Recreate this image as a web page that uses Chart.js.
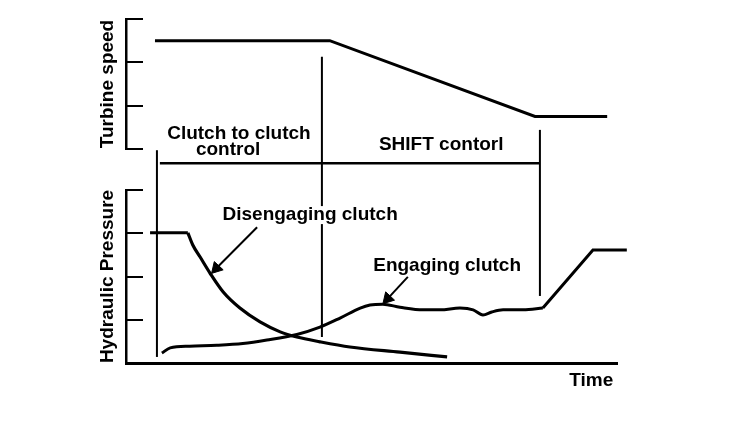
<!DOCTYPE html>
<html>
<head>
<meta charset="utf-8">
<title>Clutch to clutch shift</title>
<script src="https://cdn.jsdelivr.net/npm/chart.js@4.4.1/dist/chart.umd.min.js"></script>
<style>
  html, body { margin: 0; padding: 0; background: #fff; }
  #wrap { width: 736px; height: 428px; }
</style>
</head>
<body>
<div id="wrap"><canvas id="grafica"></canvas></div>
<script>
// time runs 0..100, turbine speed 0..3, hydraulic pressure 0..4
const turbineT = [5.9, 41.5, 83.3, 98.0];
const turbineSpeed = [2.5, 2.5, 0.75, 0.75];

const disengageFlatT = [4.9, 12.6];
const disengageFlatP = [3.01, 3.01];
const disengageT = [12.6, 13.6, 15.1, 17.1, 19.8, 23.2, 27.3, 31.4, 34.8, 39.5, 45.6, 55.8, 65.4];
const disengageP = [3.01, 2.73, 2.45, 2.08, 1.64, 1.27, 0.95, 0.72, 0.60, 0.49, 0.37, 0.25, 0.14];

const engageT = [7.3, 9.0, 13.0, 18.5, 23.8, 28.7, 34.8, 39.5, 43.6, 47.7, 49.7, 52.3, 55.8, 60.5, 64.0, 68.0, 70.7, 72.7, 74.5, 76.8, 80.9, 84.9];
const engageP = [0.23, 0.35, 0.39, 0.41, 0.45, 0.53, 0.66, 0.83, 1.04, 1.27, 1.34, 1.36, 1.29, 1.23, 1.23, 1.27, 1.23, 1.11, 1.18, 1.23, 1.23, 1.27];
const engageRampT = [84.9, 95.1, 102.0];
const engageRampP = [1.27, 2.61, 2.61];

// phase markers, in pressure units (they run up into the speed panel)
const markerT = [6.3, 39.9, 84.3];
const markerTop = [4.92, 7.08, 5.39];
const markerBottom = [0.14, 0.60, 1.55];
const spanT = [6.9, 84.3];
const spanP = [4.62, 4.62];

// arrows from the labels to the curves
const arrowFromT = [26.7, 57.4];
const arrowFromP = [3.14, 1.99];
const arrowToT = [18.4, 53.3];
const arrowToP = [2.19, 1.49];

const labelText = ["Clutch to clutch", "control", "SHIFT contorl", "Disengaging clutch", "Engaging clutch"];
const labelT = [23.0, 20.8, 64.2, 37.5, 65.4];
const labelP = [5.29, 4.92, 5.04, 3.42, 2.24];

const FUENTE = '"Liberation Sans", Arial, sans-serif';
const negro = '#000';

function puntos(xs, ys) {
  return xs.map((x, i) => ({ x: x, y: ys[i] }));
}

function linea(data, eje, ancho, extra) {
  return Object.assign({
    data: data,
    yAxisID: eje,
    borderColor: negro,
    borderWidth: ancho,
    pointRadius: 0,
    tension: 0,
    fill: false,
    clip: false
  }, extra || {});
}

const datasets = [
  linea(puntos(turbineT, turbineSpeed), 'yT', 3),
  linea(puntos(disengageFlatT, disengageFlatP), 'yP', 3),
  linea(puntos(disengageT, disengageP), 'yP', 3.2, { cubicInterpolationMode: 'monotone' }),
  linea(puntos(engageT, engageP), 'yP', 3, { cubicInterpolationMode: 'monotone' }),
  linea(puntos(engageRampT, engageRampP), 'yP', 3),
  linea(puntos(spanT, spanP), 'yP', 2.5)
];

markerT.forEach((t, i) => {
  datasets.push(linea(puntos([t, t], [markerBottom[i], markerTop[i]]), 'yP', 2));
});

arrowFromT.forEach((t, i) => {
  datasets.push(linea(puntos([t, arrowToT[i]], [arrowFromP[i], arrowToP[i]]), 'yP', 2));
});

// arrow heads
datasets.push({
  data: puntos(arrowToT, arrowToP),
  yAxisID: 'yP',
  showLine: false,
  pointStyle: 'triangle',
  pointRadius: 7,
  pointRotation: 223,
  pointBackgroundColor: negro,
  pointBorderColor: negro,
  pointBorderWidth: 1,
  clip: false
});

const etiquetas = {
  id: 'etiquetas',
  afterDatasetsDraw(chart) {
    const { ctx, scales } = chart;
    ctx.save();
    ctx.font = 'bold 19px ' + FUENTE;
    ctx.textAlign = 'center';
    ctx.textBaseline = 'middle';
    labelText.forEach((txt, i) => {
      const x = scales.x.getPixelForValue(labelT[i]);
      const y = scales.yP.getPixelForValue(labelP[i]);
      const w = ctx.measureText(txt).width;
      ctx.fillStyle = '#fff';
      ctx.fillRect(x - w / 2 - 2, y - 9, w + 4, 18);
      ctx.fillStyle = negro;
      ctx.fillText(txt, x, y);
    });
    ctx.restore();
  }
};

function ejeY(titulo, max, peso, orden) {
  return {
    type: 'linear',
    position: 'left',
    stack: 'panel',
    stackWeight: peso,
    weight: orden,
    min: 0,
    max: max,
    ticks: { display: false, stepSize: 1 },
    grid: {
      display: true,
      drawOnChartArea: false,
      drawTicks: true,
      tickLength: -17,
      color: negro,
      lineWidth: 2
    },
    border: { display: true, color: negro, width: 2.5 },
    title: {
      display: true,
      text: titulo,
      color: negro,
      font: { family: FUENTE, size: 19, weight: 'bold' },
      padding: { top: 0, bottom: 0 }
    },
    afterFit: (s) => { s.width = 30; }
  };
}

new Chart(document.getElementById('grafica'), {
  type: 'line',
  data: { datasets: datasets },
  options: {
    responsive: true,
    maintainAspectRatio: false,
    animation: false,
    events: [],
    layout: { padding: { left: 96, right: 119, top: 19, bottom: 0 } },
    plugins: {
      legend: { display: false },
      tooltip: { enabled: false }
    },
    scales: {
      x: {
        type: 'linear',
        min: 0,
        max: 100,
        ticks: { display: false },
        grid: { display: false },
        border: { display: true, color: negro, width: 3 },
        title: {
          display: true,
          text: 'Time\u2009',
          align: 'end',
          color: negro,
          font: { family: FUENTE, size: 19, weight: 'bold' },
          padding: { top: 0, bottom: 36 }
        },
        afterFit: (s) => { s.height = 65; }
      },
      yP: ejeY('Hydraulic Pressure', 4, 173, 1),
      yGap: {
        type: 'linear',
        position: 'left',
        stack: 'panel',
        stackWeight: 41,
        weight: 2,
        min: 0,
        max: 1,
        ticks: { display: false },
        grid: { display: false },
        border: { display: false },
        afterFit: (s) => { s.width = 30; }
      },
      yT: ejeY('Turbine speed', 3, 130, 3)
    }
  },
  plugins: [etiquetas]
});
</script>
</body>
</html>
